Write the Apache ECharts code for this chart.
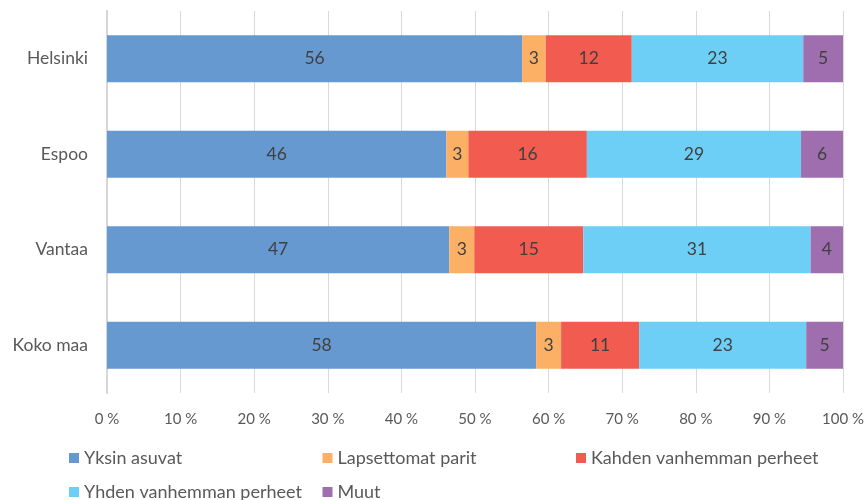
<!DOCTYPE html>
<html>
<head>
<meta charset="utf-8">
<script src="https://cdn.jsdelivr.net/npm/echarts@6/dist/echarts.min.js"></script>
<style>
  html, body { margin: 0; padding: 0; background: #fff; }
  #chart { width: 868px; height: 500px; }
</style>
</head>
<body>
<div id="chart"></div>
<script>
// alueet ylhäältä alas
const cities = ['Helsinki', 'Espoo', 'Vantaa', 'Koko maa']
const seriesNames = ['Yksin asuvat', 'Lapsettomat parit', 'Kahden vanhemman perheet', 'Yhden vanhemman perheet', 'Muut']
const colors = ['#6699d0', '#fbb065', '#f25b50', '#6dcff6', '#9e6eae']
// osuudet (%) per alue, luettu kuvasta
const yksin = [56.4, 46.1, 46.5, 58.3]
const lapsettomat = [3.2, 3.0, 3.4, 3.4]
const kahden = [11.7, 16.1, 14.8, 10.6]
const yhden = [23.3, 29.1, 30.9, 22.7]
const muut = [5.4, 5.7, 4.4, 5.0]
const xTicks = [0, 10, 20, 30, 40, 50, 60, 70, 80, 90, 100]

const values = [yksin, lapsettomat, kahden, yhden, muut]
const font = 'Lato, "Open Sans", sans-serif'

// selite ruudukkona: 3 saraketta, 2 riviä
const legends = seriesNames.map((name, i) => ({
  data: [name],
  left: 69 + (i % 3) * 253.5,
  top: 449 + Math.floor(i / 3) * 34,
  padding: 0,
  itemWidth: 10,
  itemHeight: 10,
  itemGap: 0,
  icon: 'rect',
  textStyle: { color: '#595959', fontSize: 18, fontFamily: font }
}))

const chart = echarts.init(document.getElementById('chart'))
chart.setOption({
  animation: false,
  textStyle: { fontFamily: font },
  grid: { left: 107, right: 25, top: 11, bottom: 107 },
  legend: legends,
  xAxis: {
    type: 'value',
    min: xTicks[0],
    max: xTicks[xTicks.length - 1],
    interval: 10,
    axisLine: { show: false },
    axisTick: { show: false },
    axisLabel: { color: '#595959', fontSize: 15, margin: 19, formatter: '{value} %' },
    splitLine: { lineStyle: { color: '#d9d9d9', width: 1 } }
  },
  yAxis: {
    type: 'category',
    inverse: true,
    data: cities,
    axisLine: { lineStyle: { color: '#d6d6d6', width: 2 } },
    axisTick: { show: false },
    axisLabel: { color: '#595959', fontSize: 17.5, margin: 19 }
  },
  series: seriesNames.map((name, i) => ({
    name: name,
    type: 'bar',
    stack: 'total',
    barWidth: 47,
    data: values[i],
    itemStyle: { color: colors[i] },
    label: {
      show: true,
      position: 'inside',
      color: '#404040',
      fontSize: 17.5,
      fontFamily: font,
      formatter: (p) => Math.round(p.value)
    }
  }))
})
</script>
</body>
</html>
